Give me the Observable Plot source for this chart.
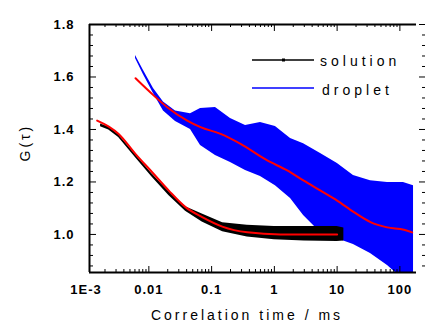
<!DOCTYPE html>
<html>
<head>
<meta charset="utf-8">
<script src="https://cdn.jsdelivr.net/npm/d3@7"></script>
<script src="https://cdn.jsdelivr.net/npm/@observablehq/plot@0.6"></script>
<style>
  html, body { margin: 0; padding: 0; background: #fff; }
  #chart { width: 426px; height: 327px; }
  svg { font-family: "Liberation Sans", Arial, sans-serif; }
</style>
</head>
<body>
<div id="chart"></div>
<script>
// ---- Data ----
// solution: measured band (noise envelope) and fit
const solT  = [0.0017, 0.0023, 0.0033, 0.0061, 0.0113, 0.0208, 0.0384, 0.0708, 0.15, 0.37, 1.0, 3.0, 10, 12.8];
const solLo = [1.410, 1.398, 1.369, 1.293, 1.218, 1.148, 1.088, 1.047, 1.010, 0.990, 0.980, 0.975, 0.973, 0.975];
const solHi = [1.421, 1.409, 1.380, 1.305, 1.230, 1.164, 1.106, 1.078, 1.045, 1.035, 1.030, 1.030, 1.030, 1.025];
const solFitT = [0.0015, 0.0023, 0.0033, 0.0061, 0.0113, 0.0208, 0.0384, 0.0708, 0.148, 0.37, 1.25, 10];
const solFitG = [1.434, 1.411, 1.383, 1.307, 1.237, 1.167, 1.104, 1.066, 1.030, 1.008, 1.000, 1.000];

// droplet: measured band (noise envelope) and fit
const dropT  = [0.00613, 0.00822, 0.01186, 0.0171, 0.0266, 0.0461, 0.0666, 0.1153, 0.200, 0.347, 0.601, 1.04, 1.81, 2.92, 5.44, 10.1, 18.2, 34.0, 63.5, 85.1, 114, 165];
const dropHi = [1.682, 1.625, 1.556, 1.505, 1.470, 1.460, 1.480, 1.484, 1.442, 1.415, 1.427, 1.411, 1.366, 1.346, 1.308, 1.270, 1.225, 1.205, 1.198, 1.198, 1.198, 1.186];
const dropLo = [1.670, 1.609, 1.537, 1.470, 1.430, 1.400, 1.339, 1.301, 1.274, 1.244, 1.221, 1.186, 1.137, 1.072, 1.007, 0.984, 0.962, 0.927, 0.882, 0.855, 0.855, 0.855];
const dropFitT = [0.00613, 0.012, 0.0196, 0.0408, 0.0666, 0.139, 0.289, 0.769, 1.6, 2.94, 5.44, 10, 18.5, 34, 62.8, 116, 157];
const dropFitG = [1.595, 1.529, 1.485, 1.434, 1.409, 1.383, 1.345, 1.282, 1.244, 1.205, 1.167, 1.129, 1.085, 1.047, 1.027, 1.018, 1.008];

// axes
const xTickValues = [0.001, 0.01, 0.1, 1, 10, 100];
const xTickLabels = ["1E-3", "0.01", "0.1", "1", "10", "100"];
const yTickValues = [1.0, 1.2, 1.4, 1.6, 1.8];
const yTickLabels = ["1.0", "1.2", "1.4", "1.6", "1.8"];
const xTitle = "Correlation time / ms";
const yTitle = "G(\u03C4)";
const legendLabels = ["solution", "droplet"];
const legendColors = ["#000000", "#0000ff"];

// ---- Build tables ----
const solBand = solT.map((t, i) => ({t, lo: solLo[i], hi: solHi[i]}));
const solFit = solFitT.map((t, i) => ({t, g: solFitG[i]}));
const dropBand = dropT.map((t, i) => ({t, lo: dropLo[i], hi: dropHi[i]}));
const dropFit = dropFitT.map((t, i) => ({t, g: dropFitG[i]}));

const xDomain = [0.001133, 184];
const yDomain = [0.855, 1.8];

const W = 426, H = 327, mL = 89, mR = 10, mT = 24, mB = 55;
const pW = W - mL - mR, pH = H - mT - mB;

const xMajorIn = xTickValues.filter(v => v >= xDomain[0] && v <= xDomain[1]);
const xMinor = [];
for (let k = -3; k <= 2; k++) for (let m = 2; m <= 9; m++) {
  const v = m * Math.pow(10, k);
  if (v >= xDomain[0] && v <= xDomain[1]) xMinor.push(v);
}
const yMinor = d3.range(0.88, 1.78, 0.04).filter(v => yTickValues.every(t => Math.abs(t - v) > 1e-6));

const plot = Plot.plot({
  width: W, height: H,
  marginLeft: mL, marginRight: mR, marginTop: mT, marginBottom: mB,
  x: {type: "log", domain: xDomain, axis: null},
  y: {domain: yDomain, axis: null},
  marks: [
    // data
    Plot.areaY(dropBand, {x: "t", y1: "lo", y2: "hi", fill: "#0000ff", curve: "linear"}),
    Plot.areaY(solBand, {x: "t", y1: "lo", y2: "hi", fill: "#000000", curve: "linear"}),
    Plot.line(dropFit, {x: "t", y: "g", stroke: "#ff0000", strokeWidth: 2, curve: "monotone-x"}),
    Plot.line(solFit, {x: "t", y: "g", stroke: "#ff0000", strokeWidth: 2, curve: "monotone-x"}),
    // frame (left, top, bottom)
    Plot.ruleX([xDomain[0]], {stroke: "black", strokeWidth: 2}),
    Plot.ruleY([yDomain[0]], {stroke: "black", strokeWidth: 2}),
    Plot.ruleY([yDomain[1]], {stroke: "black", strokeWidth: 2}),
    // bottom ticks (inward)
    Plot.ruleX(xMajorIn, {stroke: "black", insetTop: pH - 6}),
    Plot.ruleX(xMinor, {stroke: "black", insetTop: pH - 3}),
    // top ticks
    Plot.ruleX(xMajorIn, {stroke: "black", insetBottom: pH - 7}),
    Plot.ruleX(xMinor, {stroke: "black", insetBottom: pH - 3}),
    // left ticks
    Plot.ruleY(yTickValues, {stroke: "black", insetRight: pW - 7}),
    Plot.ruleY(yMinor, {stroke: "black", insetRight: pW - 4}),
    // right ticks (outside the drawn frame line)
    Plot.ruleY(yTickValues, {stroke: "black", insetLeft: pW + 3, insetRight: -9}),
    Plot.ruleY(yMinor, {stroke: "black", insetLeft: pW + 6, insetRight: -9}),
    // tick labels
    Plot.text(xTickValues, {x: d => d, text: (d, i) => xTickLabels[i], frameAnchor: "bottom", dy: 21, fontSize: 13, fontWeight: "bold", fill: "black"}),
    Plot.text(yTickValues, {y: d => d, text: (d, i) => yTickLabels[i], frameAnchor: "left", dx: -15, textAnchor: "end", fontSize: 13, fontWeight: "bold", fill: "black"}),
    // titles
    Plot.text([xTitle], {text: d => d, frameAnchor: "bottom", dy: 47, dx: -6, fontSize: 14, fill: "black"}),
    Plot.text([yTitle], {text: d => d, frameAnchor: "left", dx: -64, dy: 13, rotate: -90, fontSize: 14, fill: "black"})
  ]
});

const svg = d3.select(plot);
svg.selectAll("text").each(function() {
  const t = this.textContent;
  if (t === xTitle) this.style.letterSpacing = "3px";
  else if (t === yTitle) this.style.letterSpacing = "3px";
  else this.style.letterSpacing = "1px";
});

// legend
const lg = svg.append("g").attr("text-anchor", "start");
const legY = [60, 88];
legendLabels.forEach((lab, i) => {
  lg.append("line").attr("x1", 252).attr("x2", 314).attr("y1", legY[i]).attr("y2", legY[i])
    .attr("stroke", legendColors[i]).attr("stroke-width", 1.5);
  if (i === 0) lg.append("rect").attr("x", 282).attr("y", legY[i] - 1.5).attr("width", 3).attr("height", 3).attr("fill", "#000");
  lg.append("text").attr("x", 320 + i * 2).attr("y", legY[i] + 2.5 + i)
    .attr("text-anchor", "start")
    .attr("dominant-baseline", "middle").attr("font-size", 14)
    .style("letter-spacing", "4px").attr("fill", "black").text(lab);
});

document.getElementById("chart").appendChild(plot);
</script>
</body>
</html>
